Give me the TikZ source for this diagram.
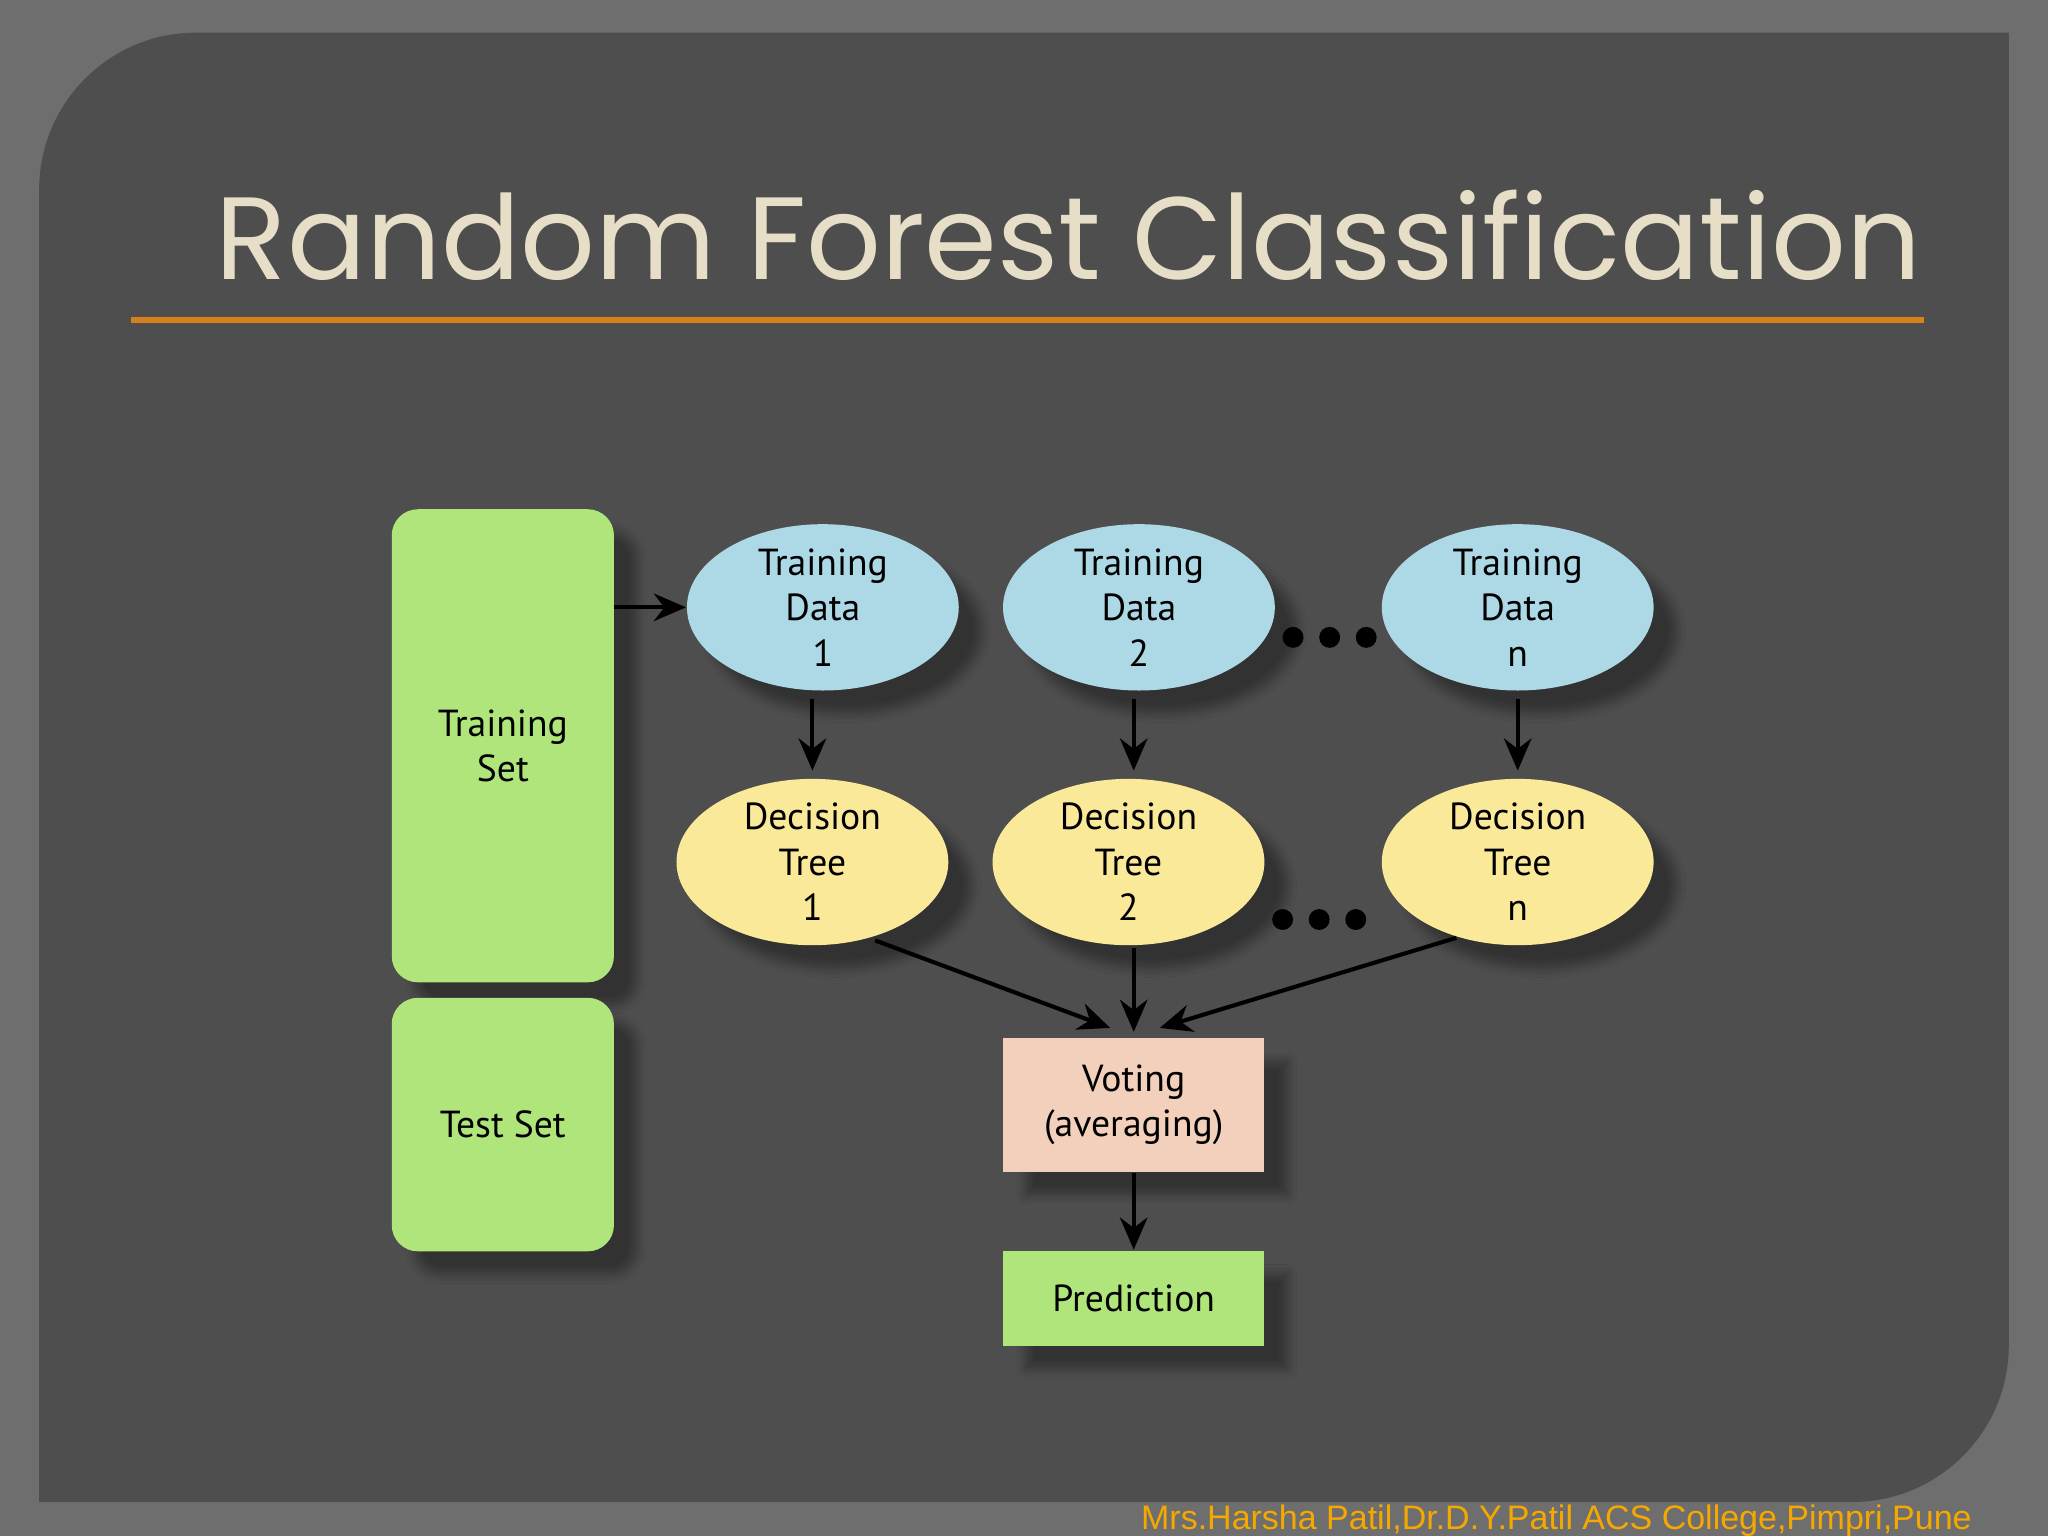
\documentclass[tikz,border=0pt]{standalone}
\usepackage{fontspec}
\setmainfont{PT Sans}
\newfontfamily\titlefont{Poppins}
\newfontfamily\footfont{Liberation Sans}
\usetikzlibrary{shapes.geometric,arrows.meta,shadows.blur}
\definecolor{outerbg}{HTML}{6E6E6E}
\definecolor{panel}{HTML}{4E4E4E}
\definecolor{titlec}{HTML}{E6DEC6}
\definecolor{lineor}{HTML}{D9801E}
\definecolor{greenb}{HTML}{B0E57C}
\definecolor{blueb}{HTML}{ADD8E6}
\definecolor{yellowb}{HTML}{FBE99A}
\definecolor{voteb}{HTML}{F2D0BB}
\definecolor{footc}{HTML}{F5A800}
\tikzset{
 txt/.style={font=\fontsize{8.2}{9.9}\selectfont, align=center, text=black},
 shd/.style={blur shadow={shadow xshift=5pt,shadow yshift=-5pt,shadow blur steps=8,shadow opacity=35}},
 setbox/.style={txt, shd, draw=none, fill=greenb, rounded corners=0.2cm},
 data/.style={txt, shd, ellipse, fill=blueb, minimum width=2.08cm, minimum height=1.26cm, inner sep=0pt},
 tree/.style={txt, shd, ellipse, fill=yellowb, minimum width=2.08cm, minimum height=1.26cm, inner sep=0pt},
 arr/.style={-{Stealth[length=7pt,width=6pt]}, black, line width=0.9pt},
 dot/.style={circle, fill=black, minimum size=0.16cm, inner sep=0pt}
}
\begin{document}
\begin{tikzpicture}[x=0.01cm,y=-0.01cm]
\useasboundingbox (0,0) rectangle (1568,1176);
\fill[outerbg] (0,0) rectangle (1568,1176);
\fill[panel] (30,1150) [rounded corners=1.2cm] -- (30,25) [sharp corners] -- (1538,25) [rounded corners=1.2cm] -- (1538,1150) [sharp corners] -- cycle;
\node[text=titlec, font=\titlefont\fontsize{25.5}{30}\selectfont] (title) at (818,180) {Random Forest Classification};
\draw[lineor, line width=1.2pt] (100,245) -- (1473,245);

\node[setbox, minimum width=1.7cm, minimum height=3.62cm, text depth=-0.6cm] (train) at (385,571) {Training\\Set};
\node[setbox, minimum width=1.7cm, minimum height=1.94cm, text depth=-0.2cm] (test) at (385,861) {Test Set};

\node[data] (d1) at (630,465) {Training\\Data\\1};
\node[data] (d2) at (872,465) {Training\\Data\\2};
\node[data] (dn) at (1162,465) {Training\\Data\\n};
\node[tree] (t1) at (622,660) {Decision\\Tree\\1};
\node[tree] (t2) at (864,660) {Decision\\Tree\\2};
\node[tree] (tn) at (1162,660) {Decision\\Tree\\n};

\node[dot] (a1) at (990,488) {}; \node[dot] (a2) at (1018,488) {}; \node[dot] (a3) at (1046,488) {};
\node[dot] (b1) at (982,704) {}; \node[dot] (b2) at (1010,704) {}; \node[dot] (b3) at (1038,704) {};

\node[txt, shd, fill=voteb, minimum width=2cm, minimum height=1.02cm] (vote) at (868,846) {Voting\\(averaging)};
\node[txt, shd, fill=greenb, minimum width=2cm, minimum height=0.73cm] (pred) at (868,994) {Prediction};

\coordinate (tr) at (470,465);
\coordinate (v1) at (850,787);
\coordinate (v2) at (868,790);
\coordinate (v3) at (888,787);
\coordinate (s1) at (670,720);
\coordinate (s2) at (868,726);
\coordinate (s3) at (1115,718);
\draw[arr] (tr) -- (d1.west);
\draw[arr] (d1) ++(-8,70) -- ++(0,55);
\draw[arr] (d2) ++(-4,70) -- ++(0,55);
\draw[arr] (dn) ++(0,70) -- ++(0,55);
\draw[arr] (s1) -- (v1);
\draw[arr] (s2) -- (v2);
\draw[arr] (s3) -- (v3);
\draw[arr] (vote.south) -- (pred.north);

\node[text=footc, font=\footfont\fontsize{7.4}{9}\selectfont, anchor=east] (foot) at (1522,1164) {Mrs.Harsha Patil,Dr.D.Y.Patil ACS College,Pimpri,Pune};
\end{tikzpicture}
\end{document}
